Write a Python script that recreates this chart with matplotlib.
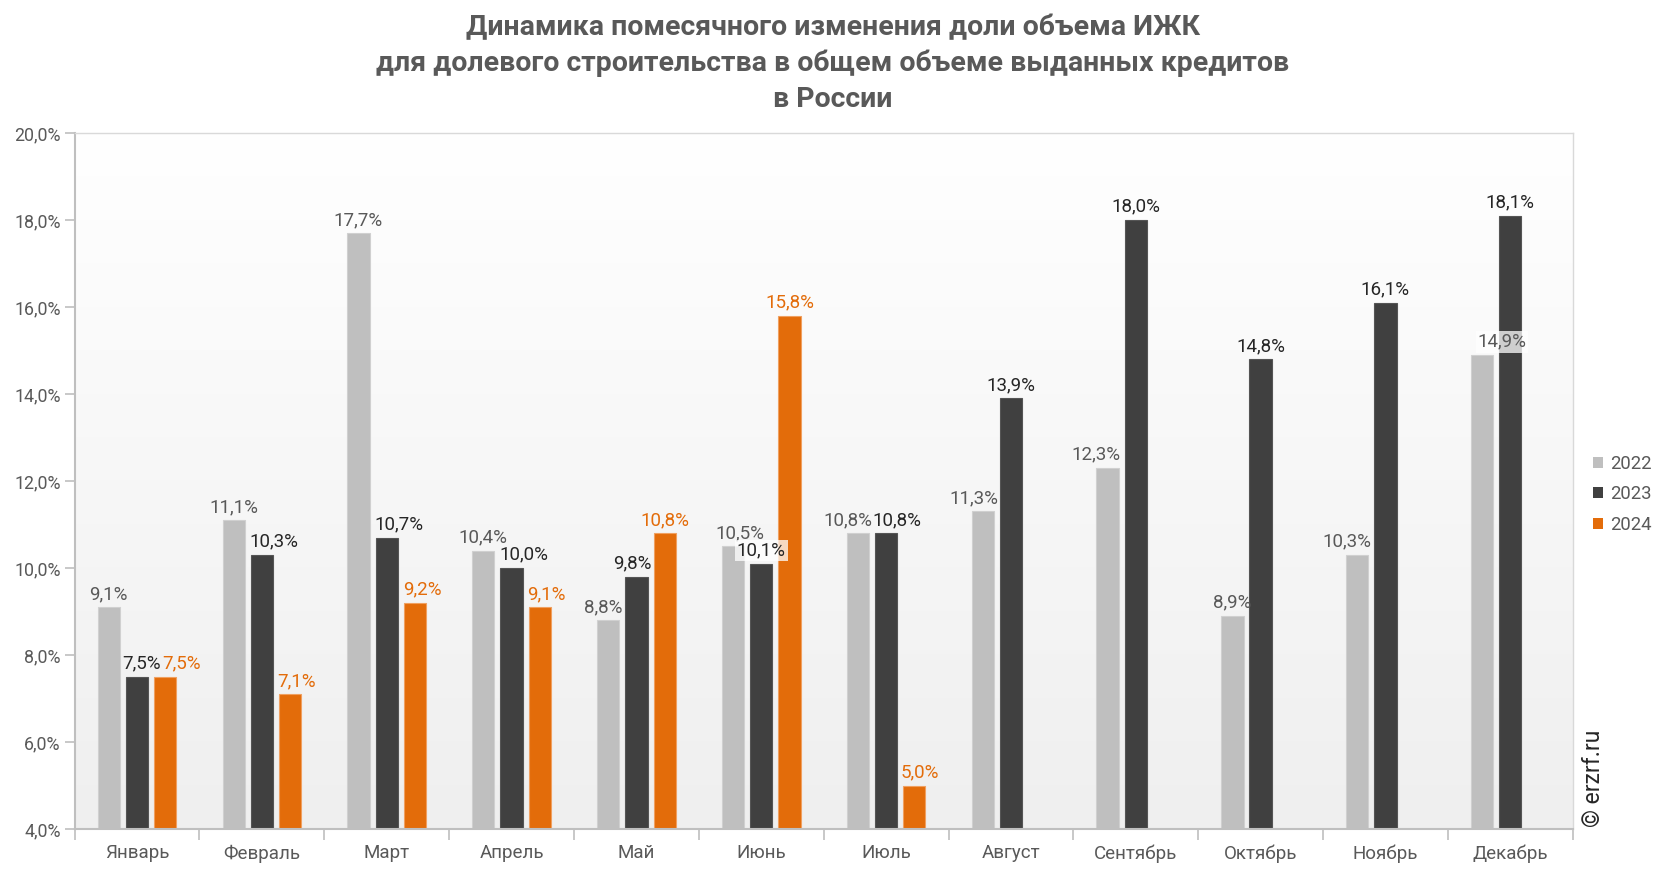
import numpy as np
import matplotlib
matplotlib.use("Agg")
import matplotlib.pyplot as plt
from matplotlib.patches import Patch
from matplotlib.colors import LinearSegmentedColormap

plt.rcParams['font.family'] = ['Roboto', 'DejaVu Sans']

months = ["Январь", "Февраль", "Март", "Апрель", "Май", "Июнь", "Июль",
          "Август", "Сентябрь", "Октябрь", "Ноябрь", "Декабрь"]
series_names = ["2022", "2023", "2024"]
v2022 = [9.1, 11.1, 17.7, 10.4, 8.8, 10.5, 10.8, 11.3, 12.3, 8.9, 10.3, 14.9]
v2023 = [7.5, 10.3, 10.7, 10.0, 9.8, 10.1, 10.8, 13.9, 18.0, 14.8, 16.1, 18.1]
v2024 = [7.5, 7.1, 9.2, 9.1, 10.8, 15.8, 5.0]
yticks = [4, 6, 8, 10, 12, 14, 16, 18, 20]

title = ("Динамика помесячного изменения доли объема ИЖК\n"
         "для долевого строительства в общем объеме выданных кредитов\n"
         "в России")

bar_colors = ["#bfbfbf", "#404040", "#e36c0a"]
label_colors = ["#595959", "#262626", "#e36c0a"]
edge_colors = ["#d0d0d0", "#555555", "#f0a060"]

# horizontal nudges of data labels (pixels), as placed in the reference
label_dx = {
    (0, 4): -5, (0, 5): 7, (0, 6): -10, (0, 7): -9, (0, 8): -12, (0, 10): -10, (0, 11): 20,
    (1, 0): 5, (1, 1): 12, (1, 2): 12, (1, 3): 12, (1, 4): -4, (1, 6): 11,
    (2, 0): 16, (2, 1): 6, (2, 2): 7, (2, 3): 7, (2, 6): 6,
}
# labels drawn on a light box where they sit over a neighbouring bar
boxed = {(1, 5), (0, 11)}

fig = plt.figure(figsize=(16.66, 8.72), dpi=100)
ax = fig.add_axes([0.0448, 0.0493, 0.8992, 0.7982])

# gradient background
cmap = LinearSegmentedColormap.from_list("bg", ["#ffffff", "#efefef"])
grad = np.linspace(0, 1, 256).reshape(-1, 1)
ax.imshow(grad, extent=[0, 1, 0, 1], transform=ax.transAxes, aspect='auto',
          cmap=cmap, zorder=0, origin='upper')

width = 0.178
step = 0.226
all_vals = [v2022, v2023, v2024]
for k, vals in enumerate(all_vals):
    x = np.arange(len(vals)) + (k - 1) * step
    ax.bar(x, np.array(vals) - 4, bottom=4, width=width, color=bar_colors[k],
           edgecolor=edge_colors[k], linewidth=0.8, zorder=2)
    for i, (xi, v) in enumerate(zip(x, vals)):
        txt = f"{v:.1f}%".replace(".", ",")
        kw = {}
        if (k, i) in boxed:
            kw['bbox'] = dict(boxstyle='square,pad=0.1', fc='white', ec='none', alpha=0.75)
        dx = label_dx.get((k, i), 0) * 72 / 100
        ax.annotate(txt, (xi, v), xytext=(dx, 3), textcoords='offset points',
                    ha='center', va='bottom', fontsize=13.5, color=label_colors[k],
                    zorder=3 + k, **kw)

ax.set_xlim(-0.5, 11.5)
ax.set_ylim(4, 20)
ax.set_yticks(yticks)
ax.set_yticklabels([f"{t:.1f}%".replace(".", ",") for t in yticks])
ax.set_xticks(np.arange(-0.5, 12, 1))
ax.set_xticklabels([])
ax.set_xticks(np.arange(12), minor=True)
ax.set_xticklabels(months, minor=True)
ax.tick_params(axis='x', which='major', length=8, color='#bfbfbf', width=1.2, direction='out')
ax.tick_params(axis='x', which='minor', length=0, pad=11, labelsize=13.5, labelcolor='#595959')
ax.tick_params(axis='y', length=7, color='#bfbfbf', width=1.2, pad=3, labelsize=12.8,
               labelcolor='#595959')

for s in ['left', 'bottom']:
    ax.spines[s].set_color('#bfbfbf')
    ax.spines[s].set_linewidth(1.5)
for s in ['top', 'right']:
    ax.spines[s].set_color('#d9d9d9')
    ax.spines[s].set_linewidth(1.0)

fig.suptitle(title, x=0.5, y=0.9835, fontsize=20.5, fontweight='bold', color='#595959',
             linespacing=1.4, va='top')

handles = [Patch(facecolor=c, edgecolor='none') for c in bar_colors]
fig.legend(handles, series_names, loc='center left', bbox_to_anchor=(0.946, 0.433),
           frameon=False, fontsize=13.3, handlelength=0.55, handleheight=0.55,
           handletextpad=0.4, labelspacing=0.66, labelcolor='#595959')

fig.text(0.9565, 0.108, "© erzrf.ru", rotation=90, ha='center', va='center',
         fontsize=16.5, color='#262626')

fig.savefig("out.png", dpi=100)
